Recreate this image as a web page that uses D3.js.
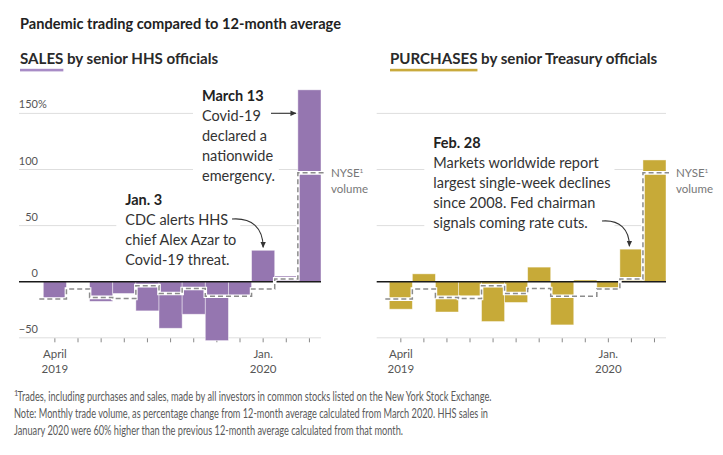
<!DOCTYPE html>
<html><head><meta charset="utf-8">
<script src="https://cdn.jsdelivr.net/npm/d3@7"></script>
<style>
body{margin:0;background:#fff;}
svg{display:block;font-family:Lato,"Noto Sans",sans-serif;}
</style></head><body>
<svg id="c" width="723" height="455"></svg>
<script>
// ---- data ----
const months = ["2019-04","2019-05","2019-06","2019-07","2019-08","2019-09","2019-10","2019-11","2019-12","2020-01","2020-02","2020-03"];
const tickLabels = {"2019-04":["April","2019"],"2020-01":["Jan.","2020"]};
const hhsSales = [-15, 0, -17.5, -10.5, -26, -41.5, -29, -52.5, -13, 28, 5, 171];
const treasuryPurchases = [-24.5, 7, -27, -12.5, -35.5, -18.5, 13, -38.5, 1.5, -6, 29, 108.5];
const nyseVolume = [-15.5, -6.5, -14, -15, -3.5, -10.5, -6, -13, -13, -6.5, 2.5, 97];
const yTicks = [-50, 0, 50, 100, 150];

const svg = d3.select("#c");
const defs = svg.append("defs");
defs.append("marker").attr("id","ah").attr("viewBox","0 0 10 10").attr("refX",9).attr("refY",5)
  .attr("markerWidth",5.5).attr("markerHeight",5.5).attr("orient","auto")
  .append("path").attr("d","M0,0.5 L10,5 L0,9.5 Z").attr("fill","#333");

const y = d3.scaleLinear().domain([-50,150]).range([337.8,113.4]);

// title
svg.append("text").attr("x",20).attr("y",29).attr("font-size",14.6).attr("font-weight",700)
  .attr("fill","#222").text("Pandemic trading compared to 12-month average");

const panels = [
  {gx0:19, b0:43.3, b1:321, data:hhsSales, color:"#9576b0", ucolor:"#a88cc6",
   lead:"SALES", rest:" by senior HHS officials", tx:20, yLabels:true},
  {gx0:376.7, b0:389.3, b1:666, data:treasuryPurchases, color:"#c7aa38", ucolor:"#c9aa3c",
   lead:"PURCHASES", rest:" by senior Treasury officials", tx:390, yLabels:false}
];

panels.forEach((p,pi) => {
  const g = svg.append("g");
  const x = d3.scaleBand().domain(months).range([p.b0,p.b1]).paddingInner(0).paddingOuter(0);
  p.x = x;
  // subtitle
  const st = g.append("text").attr("x",p.tx).attr("y",64).attr("font-size",15.1).attr("font-weight",700).attr("fill","#2a2a2a");
  st.append("tspan").text(p.lead);
  st.append("tspan").text(p.rest);
  const uw = st.node().getSubStringLength(0,p.lead.length);
  g.append("rect").attr("x",p.tx).attr("y",68.8).attr("width",uw).attr("height",2.6).attr("fill",p.ucolor);

  // grid
  g.selectAll("line.grid").data(yTicks.filter(t=>t!==0)).join("line").attr("class","grid")
    .attr("x1",p.gx0).attr("x2",p.b1).attr("y1",d=>y(d)).attr("y2",d=>y(d))
    .attr("stroke","#dedede").attr("stroke-width",1);

  if (p.yLabels) {
    g.selectAll("text.yl").data(yTicks).join("text").attr("class","yl")
      .attr("x",38).attr("y",d=>y(d)-5).attr("text-anchor","end").attr("font-size",11).attr("fill","#555")
      .text(d=>d<0?"\u2212"+Math.abs(d):d);
    g.append("text").attr("x",38).attr("y",y(150)-5).attr("font-size",11).attr("fill","#555").text("%");
  }

  // x axis ticks
  const ax = g.append("g").attr("transform","translate(0,338.3)")
    .call(d3.axisBottom(x).tickSize(4).tickFormat(""));
  ax.select(".domain").remove();
  ax.selectAll(".tick line").attr("stroke","#888");
  months.filter(m=>tickLabels[m]).forEach(m=>{
    const cx = x(m)+x.bandwidth()/2;
    tickLabels[m].forEach((s,k)=>{
      g.append("text").attr("x",cx).attr("y",358+k*15).attr("text-anchor","middle")
        .attr("font-size",11.5).attr("fill","#555").text(s);
    });
  });

  p.annLayer = g.append("g");
  p.markLayer = g.append("g");
});

// annotations (white backed)
function annotation(p, x0, y0, head, lines) {
  const g = p.annLayer.append("g");
  const bg = g.append("rect").attr("fill","#fff");
  const t = g.append("text").attr("font-size",14.5).attr("fill","#333");
  t.append("tspan").attr("x",x0).attr("y",y0).attr("font-weight",700).attr("fill","#222").text(head);
  lines.forEach((l,i)=> t.append("tspan").attr("x",x0).attr("y",y0+20*(i+1)).text(l));
  const bb = t.node().getBBox();
  bg.attr("x",bb.x-9).attr("y",bb.y-3).attr("width",bb.width+13).attr("height",bb.height+6);
}
annotation(panels[0], 202, 100.7, "March 13", ["Covid-19","declared a","nationwide","emergency."]);
annotation(panels[0], 125.3, 205, "Jan. 3", ["CDC alerts HHS","chief Alex Azar to","Covid-19 threat."]);
annotation(panels[1], 433.3, 148.3, "Feb. 28", ["Markets worldwide report","largest single-week declines","since 2008. Fed chairman","signals coming rate cuts."]);

panels.forEach(p=>{
  const g = p.markLayer, x = p.x;
  g.selectAll("rect.bar").data(p.data.map((v,i)=>({m:months[i],v}))).join("rect").attr("class","bar")
    .attr("x",d=>x(d.m)).attr("width",x.bandwidth())
    .attr("y",d=>y(Math.max(0,d.v))).attr("height",d=>Math.abs(y(d.v)-y(0)))
    .attr("fill",p.color).attr("stroke","#fff").attr("stroke-opacity",0.55).attr("stroke-width",0.8);
  // zero line
  g.append("line").attr("x1",p.gx0).attr("x2",p.b1).attr("y1",y(0)).attr("y2",y(0))
    .attr("stroke","#1a1a1a").attr("stroke-width",1.4);
  // NYSE step line
  const pts = nyseVolume.map((v,i)=>[i===0?x(months[0])-4:x(months[i]), v]);
  pts.push([p.b1+3, nyseVolume[nyseVolume.length-1]]);
  const line = d3.line().x(d=>d[0]).y(d=>y(d[1])).curve(d3.curveStepAfter);
  g.append("path").attr("d",line(pts)).attr("fill","none").attr("stroke","#fff").attr("stroke-width",3.6);
  g.append("path").attr("d",line(pts)).attr("fill","none").attr("stroke","#8c8c8c").attr("stroke-width",1.5)
    .attr("stroke-dasharray","5,3");
  const lt = g.append("text").attr("x",p.b1+10).attr("y",176.7).attr("font-size",11.5).attr("fill","#777");
  lt.append("tspan").text("NYSE");
  lt.append("tspan").attr("dy",-4).attr("font-size",6.5).text("1");
  g.append("text").attr("x",p.b1+10).attr("y",192.5).attr("font-size",11.5).attr("fill","#777").text("volume");
});

// arrows
function arrow(p, d) {
  p.markLayer.append("path").attr("d",d).attr("fill","none").attr("stroke","#333").attr("stroke-width",1.1)
    .attr("marker-end","url(#ah)");
}
{
  const x = panels[0].x, bw = x.bandwidth();
  const jx = x("2020-01")+bw/2, jy = y(hhsSales[9])-3;
  arrow(panels[0], `M232,219 C252,217.5 ${jx},228 ${jx},${jy}`);
  const mx = x("2020-03")-2;
  arrow(panels[0], `M271,113.3 L${mx},113.3`);
  const x2 = panels[1].x;
  const fx = x2("2020-02")+x2.bandwidth()/2 - 2, fy = y(treasuryPurchases[10])-3;
  arrow(panels[1], `M602,221 C620,219.5 ${fx},230 ${fx},${fy}`);
}

// footnote
const fn = svg.append("g").attr("font-size",13).attr("fill","#5a5a5a");
fn.append("text").attr("x",14).attr("y",395.5).attr("font-size",7.5).text("1");
fn.append("text").attr("x",17.5).attr("y",401).attr("textLength",474).attr("lengthAdjust","spacingAndGlyphs")
  .text("Trades, including purchases and sales, made by all investors in common stocks listed on the New York Stock Exchange.");
fn.append("text").attr("x",14).attr("y",418).attr("textLength",474).attr("lengthAdjust","spacingAndGlyphs")
  .text("Note: Monthly trade volume, as percentage change from 12-month average calculated from March 2020. HHS sales in");
fn.append("text").attr("x",14).attr("y",435).attr("textLength",389).attr("lengthAdjust","spacingAndGlyphs")
  .text("January 2020 were 60% higher than the previous 12-month average calculated from that month.");
</script>
</body></html>
